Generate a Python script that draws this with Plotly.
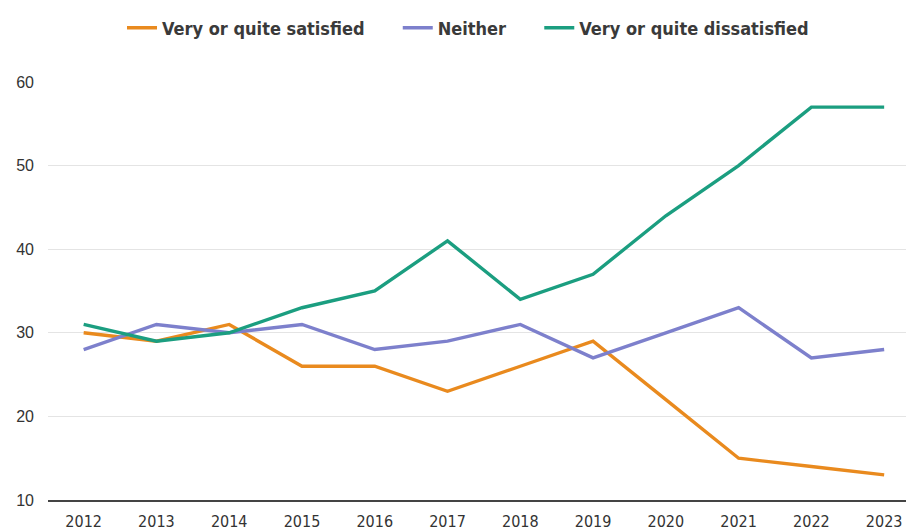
import plotly.graph_objects as go

years = list(range(2012, 2024))
satisfied = [30, 29, 31, 26, 26, 23, 26, 29, 22, 15, 14, 13]
neither = [28, 31, 30, 31, 28, 29, 31, 27, 30, 33, 27, 28]
dissatisfied = [31, 29, 30, 33, 35, 41, 34, 37, 44, 50, 57, 57]

series_names = ["Very or quite satisfied", "Neither", "Very or quite dissatisfied"]
colores = ["#E98A1E", "#7D80CC", "#1B9E80"]

fuente_cond = "DejaVu Sans Condensed, Roboto, sans-serif"
espacio = "\u00a0" * 5  # separación extra entre entradas de la leyenda

fig = go.Figure()
for i, (nombre, valores, color) in enumerate(zip(series_names, [satisfied, neither, dissatisfied], colores)):
    etiqueta = nombre + (espacio if i < len(series_names) - 1 else "")
    fig.add_trace(go.Scatter(
        x=years, y=valores, name=etiqueta, mode="lines",
        line=dict(color=color, width=3.4),
    ))

# la página tiene 8px de margen en el body, se compensa en los márgenes
fig.update_layout(
    width=914,
    height=532,
    margin=dict(l=36, r=8, t=74, b=40),
    plot_bgcolor="white",
    paper_bgcolor="white",
    showlegend=True,
    legend=dict(
        orientation="h", x=0.485, xanchor="center", y=0.997, yanchor="top",
        yref="container",
        font=dict(family=fuente_cond, size=18, color="#3a3a3a", weight=600),
        itemwidth=30,
    ),
    font=dict(family=fuente_cond, color="#333333"),
)

fig.update_xaxes(
    range=[2011.51, 2023.41],
    tickvals=years,
    ticktext=[str(a) for a in years],
    showgrid=False,
    showline=True, linecolor="#444444", linewidth=1.5,
    ticks="", tickfont=dict(family=fuente_cond, size=16, color="#333333"),
    ticklabelstandoff=6,
    zeroline=False,
)
fig.update_yaxes(
    range=[10, 60],
    tickvals=[10, 20, 30, 40, 50, 60],
    showgrid=True, gridcolor="#E4E4E4", gridwidth=1,
    ticks="", tickfont=dict(family="Liberation Sans, Arial, sans-serif", size=16, color="#333333"),
    ticklabelstandoff=13,
    zeroline=False,
)

fig.write_html("out.html")
